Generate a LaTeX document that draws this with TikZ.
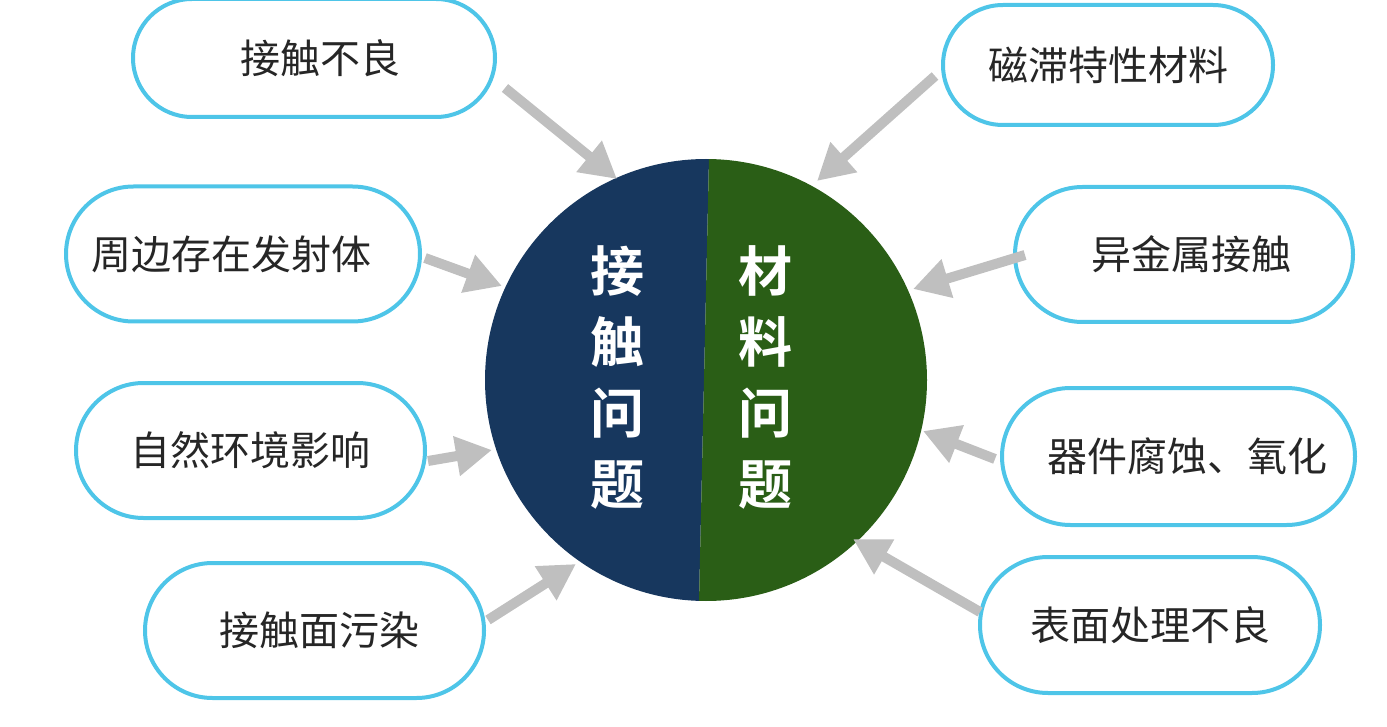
\documentclass[tikz,border=0pt]{standalone}
\usepackage{fontspec}
\newfontfamily\cjk{Noto Sans CJK SC}
\newfontfamily\cjkb{Noto Sans CJK SC Bold}
\usetikzlibrary{shapes.misc,arrows.meta}
\definecolor{boxline}{HTML}{4EC5E8}
\definecolor{arrowgray}{HTML}{BFBFBF}
\definecolor{navy}{HTML}{17375E}
\definecolor{leaf}{HTML}{2A5E16}
\definecolor{txt}{HTML}{262626}
\tikzset{
  box/.style={draw=boxline, line width=2pt, fill=white, rounded rectangle, inner sep=0pt, outer sep=0pt,
    font=\cjk\fontsize{20pt}{24pt}\selectfont, text=txt},
  feed/.style={draw=arrowgray, line width=5pt, -{Triangle[length=18pt,width=19pt]}},
  inner/.style={font=\cjkb\fontsize{27pt}{35.5pt}\selectfont, text=white, align=center}
}
\begin{document}
\begin{tikzpicture}[x=0.5pt,y=-0.5pt]
\useasboundingbox (0,0) rectangle (1387,727);
% central circle
\node[circle, minimum size=221pt, inner sep=0pt, outer sep=0pt] (c) at (706,380) {};
\begin{scope}
  \clip (706,380) circle[radius=221];
  \fill[navy] (400,100) -- (710.3,100) -- (697.7,660) -- (400,660) -- cycle;
  \fill[leaf] (710.3,100) -- (1000,100) -- (1000,660) -- (697.7,660) -- cycle;
\end{scope}
\node[inner] (l) at (617,377) {接\\触\\问\\题};
\node[inner] (r) at (765,377) {材\\料\\问\\题};
% boxes
\node[box, minimum width=181pt, minimum height=59pt] (b1) at (314,58) {\kern6pt接触不良};
\node[box, minimum width=177pt, minimum height=67.5pt] (b2) at (243,254) {周边存在发射体\kern12pt};
\node[box, minimum width=174.5pt, minimum height=67.5pt] (b3) at (250.5,450.5) {自然环境影响};
\node[box, minimum width=169.5pt, minimum height=67.5pt] (b4) at (314.5,630.5) {\kern4.5pt接触面污染};
\node[box, minimum width=165pt, minimum height=60pt] (b5) at (1108,65) {磁滞特性材料};
\node[box, minimum width=169pt, minimum height=67.5pt] (b6) at (1184,254.5) {\kern7.5pt异金属接触};
\node[box, minimum width=176.5pt, minimum height=68.5pt] (b7) at (1178.5,456.5) {\kern9pt器件腐蚀、氧化};
\node[box, minimum width=170pt, minimum height=68pt] (b8) at (1150,625) {表面处理不良};
% arrow ends
\coordinate (a1s) at (505,88);   \coordinate (a1e) at (617,179);
\coordinate (a2s) at (425,258);  \coordinate (a2e) at (502,286);
\coordinate (a3s) at (428,461);  \coordinate (a3e) at (492,450);
\coordinate (a4s) at (488,620);  \coordinate (a4e) at (576,564);
\coordinate (a5s) at (935,76);   \coordinate (a5e) at (817,181);
\coordinate (a6s) at (1025,255); \coordinate (a6e) at (913,289);
\coordinate (a7s) at (995,459);  \coordinate (a7e) at (923,431);
\coordinate (a8s) at (980,612);  \coordinate (a8e) at (853,539);
\foreach \i in {1,...,8} {\draw[feed] (a\i s) -- (a\i e);}
\end{tikzpicture}
\end{document}
